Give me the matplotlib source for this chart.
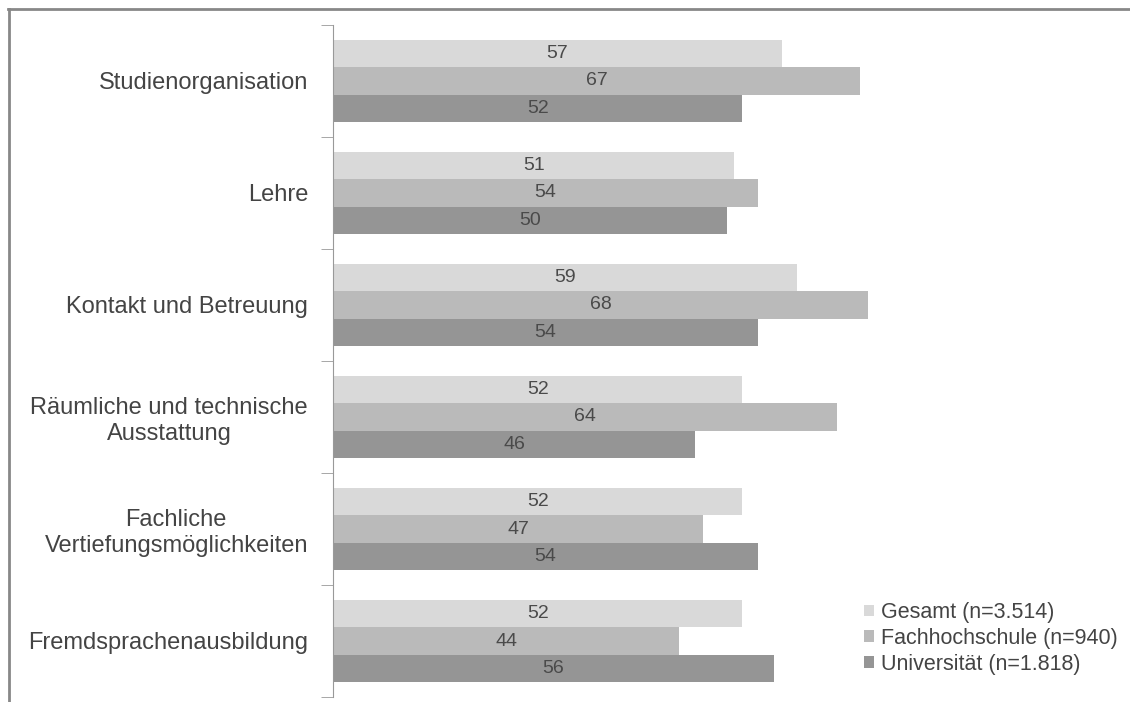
import numpy as np
import matplotlib.pyplot as plt
from matplotlib.lines import Line2D

plt.rcParams['font.family'] = ['Liberation Sans', 'DejaVu Sans']

# Bereiche und Zufriedenheitswerte (%)
categories = [
    'Studienorganisation',
    'Lehre',
    'Kontakt und Betreuung',
    'Räumliche und technische\nAusstattung',
    'Fachliche\nVertiefungsmöglichkeiten',
    'Fremdsprachenausbildung',
]
gesamt = [57, 51, 59, 52, 52, 52]
fachhochschule = [67, 54, 68, 64, 47, 44]
universitaet = [52, 50, 54, 46, 54, 56]

series_names = ['Gesamt (n=3.514)', 'Fachhochschule (n=940)', 'Universität (n=1.818)']
colors = ['#d9d9d9', '#bababa', '#959595']

fig = plt.figure(figsize=(11.3, 7.02), dpi=100)
ax = fig.add_axes([333 / 1130, 5 / 702, 787 / 1130, 672 / 702])

y = np.arange(len(categories))
h = 0.243
offsets = [-h, 0, h]
for vals, off, c, name in zip([gesamt, fachhochschule, universitaet], offsets, colors, series_names):
    bars = ax.barh(y + off, vals, height=h, color=c, label=name)
    for b, v in zip(bars, vals):
        ax.text(b.get_width() / 2, b.get_y() + b.get_height() / 2, str(v),
                ha='center', va='center', fontsize=14, color='#4a4a4a')

ax.set_xlim(0, 100)
ax.set_ylim(len(categories) - 0.5, -0.5)
ax.set_yticks(y)
ax.set_yticklabels(categories, fontsize=17, color='#444444', multialignment='center')
ax.tick_params(axis='y', which='major', length=0, pad=18)
ax.set_yticks(np.arange(-0.5, len(categories)), minor=True)
ax.tick_params(axis='y', which='minor', length=9, color='#999999')
ax.set_xticks([])
for s in ['top', 'right', 'bottom']:
    ax.spines[s].set_visible(False)
ax.spines['left'].set_color('#999999')

leg = ax.legend(loc='upper left', bbox_to_anchor=(849 / 1130, 1 - 587 / 702),
                bbox_transform=fig.transFigure, frameon=False, fontsize=15.5,
                handlelength=0.45, handleheight=0.45, handletextpad=0.35,
                labelspacing=0.22, labelcolor='#444444', borderpad=0.2)

# Rahmen oben und links
fig.add_artist(Line2D([8 / 1130, 1], [1 - 9 / 702, 1 - 9 / 702],
                      transform=fig.transFigure, color='#888888', lw=2))
fig.add_artist(Line2D([9 / 1130, 9 / 1130], [0, 1 - 9 / 702],
                      transform=fig.transFigure, color='#888888', lw=2))

fig.savefig('out.png', dpi=100)
